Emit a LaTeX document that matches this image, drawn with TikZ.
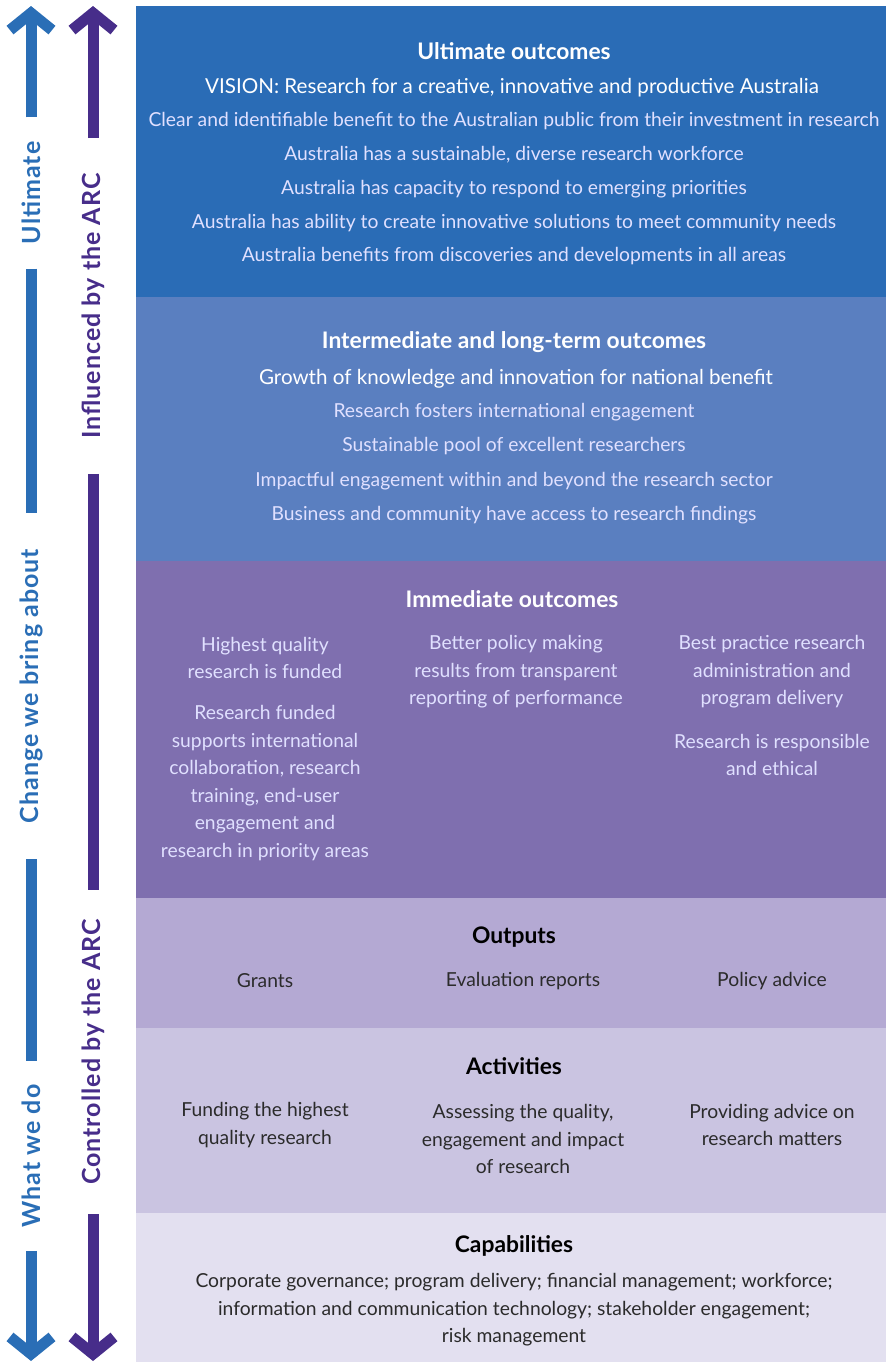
\documentclass[tikz,border=0pt]{standalone}
\usepackage{fontspec}
\setmainfont{Lato}
\newfontfamily\sidefont{Lato}[LetterSpace=4.0]
\usetikzlibrary{arrows.meta}

\definecolor{ultblue}{HTML}{2A6CB6}
\definecolor{intblue}{HTML}{5A7FC0}
\definecolor{immpurple}{HTML}{7F6FAF}
\definecolor{outlilac}{HTML}{B4A9D3}
\definecolor{actlilac}{HTML}{CAC4E1}
\definecolor{caplilac}{HTML}{E3E0F0}
\definecolor{sideblue}{HTML}{2A6EB6}
\definecolor{sidepurple}{HTML}{472D8A}
\definecolor{darktext}{HTML}{2B2B2B}

\begin{document}
\begin{tikzpicture}[x = 0.5pt, y = -0.5pt,
    head/.style = {font = \fontsize{11.4}{13}\selectfont\bfseries},
    lead/.style = {font = \fontsize{10.3}{13}\selectfont},
    item/.style = {font = \fontsize{9.65}{13.8}\selectfont, align = center},
    light/.style = {text = white!88!blue},
    dark/.style = {text = darktext},
    side/.style = {rotate = 90, font = \fontsize{12.5}{14}\sidefont\bfseries,
        inner ysep = 0pt},
    sidearrow/.style = {line width = 5.5pt,
        -{Straight Barb[length = 8.5pt, width = 21pt, line width = 5.5pt]}}]
    \useasboundingbox (0,0) rectangle (886,1362);

    % bands
    \fill[ultblue]   (136,6)    rectangle (886,297);
    \fill[intblue]   (136,297)  rectangle (886,561);
    \fill[immpurple] (136,561)  rectangle (886,898);
    \fill[outlilac]  (136,898)  rectangle (886,1028);
    \fill[actlilac]  (136,1028) rectangle (886,1213);
    \fill[caplilac]  (136,1213) rectangle (886,1362);

    % ultimate outcomes
    \node[head, text = white] (ulthead) at (514,51) {Ultimate outcomes};
    \node[lead, text = white] (vision) at (512,88)
        {VISION: Research for a creative, innovative and productive Australia};
    \node[item, light] (ult1) at (514,121)
        {Clear and identifiable benefit to the Australian public from their investment in research};
    \node[item, light] (ult2) at (514,155) {Australia has a sustainable, diverse research workforce};
    \node[item, light] (ult3) at (514,189) {Australia has capacity to respond to emerging priorities};
    \node[item, light] (ult4) at (514,223) {Australia has ability to create innovative solutions to meet community needs};
    \node[item, light] (ult5) at (514,256) {Australia benefits from discoveries and developments in all areas};

    % intermediate and long-term outcomes
    \node[head, text = white] (inthead) at (514,342) {Intermediate and long-term outcomes};
    \node[lead, text = white] (growth) at (516,379) {Growth of knowledge and innovation for national benefit};
    \node[item, light] (int1) at (514,412) {Research fosters international engagement};
    \node[item, light] (int2) at (514,446) {Sustainable pool of excellent researchers};
    \node[item, light] (int3) at (514,481) {Impactful engagement within and beyond the research sector};
    \node[item, light] (int4) at (514,515) {Business and community have access to research findings};

    % immediate outcomes
    \node[head, text = white] (immhead) at (512,599) {Immediate outcomes};
    \node[item, light] (imm1) at (265,658) {Highest quality\\research is funded};
    \node[item, light] (imm2) at (265,783) {Research funded\\supports international\\collaboration, research\\training, end-user\\engagement and\\research in priority areas};
    \node[item, light] (imm3) at (516,672) {Better policy making\\results from transparent\\reporting of performance};
    \node[item, light] (imm4) at (772,672) {Best practice research\\administration and\\program delivery};
    \node[item, light] (imm5) at (772,755) {Research is responsible\\and ethical};

    % outputs
    \node[head, text = black] (outhead) at (514,937) {Outputs};
    \node[item, dark] (out1) at (265,981) {Grants};
    \node[item, dark] (out2) at (523,981) {Evaluation reports};
    \node[item, dark] (out3) at (772,981) {Policy advice};

    % activities
    \node[head, text = black] (acthead) at (514,1066) {Activities};
    \node[item, dark] (act1) at (265,1125) {Funding the highest\\quality research};
    \node[item, dark] (act2) at (523,1139) {Assessing the quality,\\engagement and impact\\of research};
    \node[item, dark] (act3) at (772,1125) {Providing advice on\\research matters};

    % capabilities
    \node[head, text = black] (caphead) at (514,1246) {Capabilities};
    \node[item, dark] (cap1) at (514,1310) {Corporate governance; program delivery; financial management; workforce;\\information and communication technology; stakeholder engagement;\\risk management};

    % side arrows: where the change happens
    \coordinate (btop) at (31,6);
    \coordinate (bbot) at (31,1361);
    \node[side, text = sideblue, inner xsep = 12pt] (sult) at (31,193) {Ultimate};
    \node[side, text = sideblue, inner xsep = 18pt] (schange) at (31,686) {Change we bring about};
    \node[side, text = sideblue, inner xsep = 11.5pt] (swhat) at (31,1156) {What we do};
    \draw[sidearrow, sideblue] (sult) -- (btop);
    \draw[sideblue, line width = 5.5pt] (sult) -- (schange);
    \draw[sideblue, line width = 5.5pt] (schange) -- (swhat);
    \draw[sidearrow, sideblue] (swhat) -- (bbot);

    % side arrows: how much the ARC controls
    \coordinate (ptop) at (93,6);
    \coordinate (pbot) at (93,1361);
    \node[side, text = sidepurple, inner xsep = 17.5pt] (sinf) at (93,306) {Influenced by the ARC};
    \node[side, text = sidepurple, inner xsep = 14.5pt] (sctrl) at (93,1052) {Controlled by the ARC};
    \draw[sidearrow, sidepurple] (sinf) -- (ptop);
    \draw[sidepurple, line width = 5.5pt] (sinf) -- (sctrl);
    \draw[sidearrow, sidepurple] (sctrl) -- (pbot);
\end{tikzpicture}
\end{document}
